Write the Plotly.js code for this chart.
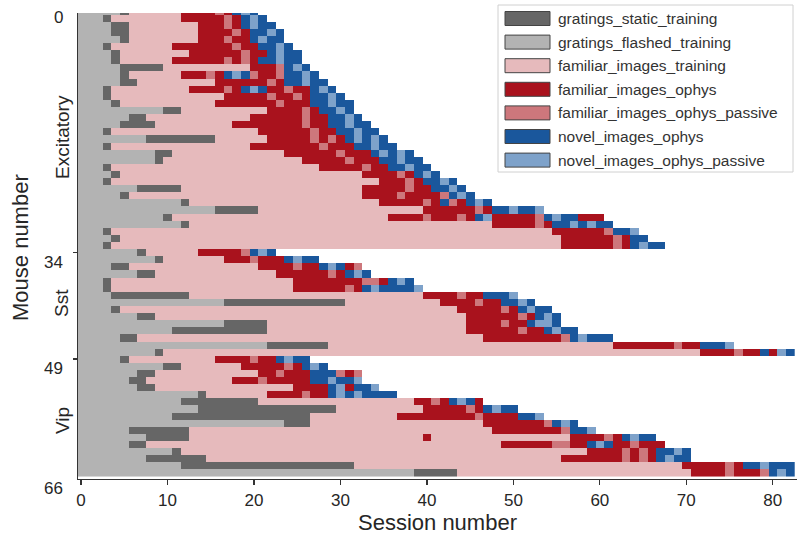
<!DOCTYPE html>
<html>
<head>
<meta charset="utf-8">
<script src="https://cdn.plot.ly/plotly-3.0.1.min.js"></script>
<style>
html,body{margin:0;padding:0;background:#fff;}
#chart{width:797px;height:541px;}
</style>
</head>
<body>
<div id="chart"></div>
<script>
// ---------- data ----------
const categories = [
  "gratings_static_training",
  "gratings_flashed_training",
  "familiar_images_training",
  "familiar_images_ophys",
  "familiar_images_ophys_passive",
  "novel_images_ophys",
  "novel_images_ophys_passive"
];
const categoryCodes = ["S", "G", "P", "R", "r", "B", "b"];
const categoryColors = ["#666666", "#b3b3b3", "#e6babc", "#a9121d", "#cd777c", "#1a579c", "#7ea2ca"];

const groupNames = ["Excitatory", "Sst", "Vip"];
const yTickLabels = ["0", "34", "49", "66"];
const xTickValues = [0, 10, 20, 30, 40, 50, 60, 70, 80];

// each mouse: run-length string of session categories (code + number of sessions)
const excitatoryRows = [
  "G5 S1 P6 R4 r1 R1 B1 b1 B1",
  "G3 S1 P8 R5 r1 R1 B1 b1 B1",
  "G4 S2 P8 R3 r1 R1 B1 b1 B2",
  "G4 S2 P8 R4 r1 R1 B2 b1 B1",
  "G5 S1 P8 R3 r1 R2 B1 b1 B2",
  "G3 S1 P7 R7 r1 R2 B2 b1 B1",
  "G4 S1 P8 R6 r1 R2 B1 b1 B2",
  "G4 S1 P6 R6 r1 R1 r1 R1 B2 b1 B2",
  "G5 S5 P10 R3 r1 B1 b1 B1",
  "G5 S1 P6 R3 r1 R1 B1 b1 B1 r1 R2 r1 B2 b1 B1",
  "G5 S2 P9 R6 r1 R1 B2 b1 B2",
  "G3 S1 P9 R4 r1 R1 B1 b1 B1 R2 r1 R2 B1 b1 B1",
  "G3 S1 P13 R5 r1 R2 r1 R1 B2 b1 B1",
  "G4 S1 P11 R7 r1 R3 B2 b1 B2",
  "G10 S2 P10 R4 r1 R1 B2 b1 B1",
  "G6 S2 P12 R6 r1 R2 B2 b1 B1",
  "G5 S4 P9 R8 r1 R2 B2 b1 B2",
  "G3 S1 P17 R6 r1 R2 B2 b1 B2",
  "G8 S8 P6 R5 r1 R1 r1 R1 B1 b1 B1 b1 B1",
  "G3 S1 P16 R8 r1 R3 B2 b1 B2",
  "G9 S2 P13 R6 r1 R3 B1 b1 B1 b1 B1",
  "G9 S1 P16 R5 r1 R3 B2 b1 B2",
  "G3 S1 P24 R5 r1 R2 B2 b1 B2",
  "G4 S1 P28 R4 r1 R1 B1 b1 B1",
  "G3 S1 P31 R3 r1 R1 B2 b1 B1",
  "G7 S5 P21 R5 r1 R2 B2 b1 B1",
  "G5 S1 P27 R4 r1 R4 r1 B1 b1 B1",
  "G12 S1 P22 R5 r1 R1 B1 r1 R1 B1 b1 B1",
  "G16 S5 P19 R6 r1 R1 B2 b1 B2 b1",
  "G10 S1 P25 R4 r1 R3 r1 R1 B1 b1 R5 r1 B1 b1 B2 R3",
  "G12 S1 P35 R5 r1 R1 B2 b1 B1 b1 B2",
  "G3 S1 P51 R6 r1 B2 b1",
  "G4 S1 P51 R6 r1 R1 B2",
  "G3 S1 P52 R6 r1 R1 B1 b1 B2"
];
const sstRows = [
  "G7 S1 P6 R5 r1 B1 b1 B1",
  "G9 S1 P7 R3 r1 R3 B1 b1 B2",
  "G4 S2 P15 R4 r1 R2 B1 b1 B1 R1 r1",
  "G7 S2 P14 R6 r1 R1 B1 b1 B1",
  "G3 S1 P21 R8 r2 R1 B1 b1 B1",
  "G3 S1 P21 R6 r1 R1 B1 b1 B4 b1",
  "G4 S9 P27 R4 r1 R2 B3 b1",
  "G17 S14 P11 R4 r1 R2 B2 b1 B1",
  "G4 S1 P39 R5 r1 R1 B1 b1 B2",
  "G7 S2 P36 R6 r1 R1 B1 b1 B1",
  "G17 S5 P23 R4 r1 R2 B1 b2 B1",
  "G11 S11 P23 R6 r1 R2 B1 b1 B2",
  "G5 S2 P40 R9 r1 B1 b1 B3",
  "G22 S7 P33 R7 r1 R2 B3 b1",
  "G9 S1 P62 R4 r1 R2 B1 R1 b1 B1"
];
const vipRows = [
  "G5 S1 P10 R4 r1 R2 B1 b1 B2",
  "G10 S2 P7 R5 r1 R1 B1 b1 B1",
  "G7 S2 P12 R2 r1 R3 B3 r1 R1 r1",
  "G6 S2 P10 R3 r1 R5 B2 b1 B2 b1",
  "G7 S2 P16 R4 B1 b1 R1 B2 b1",
  "G14 S1 P7 R4 r1 R2 B1 b1 B1 b1 B4",
  "G12 S9 P18 R2 r1 R1 B1 b1 B1 R1",
  "G14 S16 P10 R5 r1 R1 B1 b1 B2",
  "G11 S16 P10 R9 r1 R4 B2 b1",
  "G24 S3 P20 R7 r1 B1 b1 B1",
  "G6 S7 P35 R8 r1 B2 b1",
  "G8 S5 P27 R1 P16 R4 r1 R1 B1 b1 B2",
  "G6 S2 P41 R6 r2 R2 B1 b1 B1 R2 r1 R3",
  "G11 S1 P47 R4 r1 R1 r1 R1 B2 b1 B1",
  "G8 S7 P41 R7 r1 R1 r1 R1 B1 b1 B2",
  "G12 S20 P38 R5 r1 R1 B2 b1 B3",
  "G39 S5 P27 R4 r1 R3 r1 B1 b1 B1"
];

// ---------- build ----------
function expandRow(spec) {
  const out = [];
  spec.trim().split(/\s+/).forEach(tok => {
    const v = categoryCodes.indexOf(tok[0]);
    const n = parseInt(tok.slice(1), 10);
    for (let i = 0; i < n; i++) out.push(v);
  });
  return out;
}
const groups = [excitatoryRows, sstRows, vipRows];
const allRows = [].concat(...groups).map(expandRow);
const nSessions = Math.max(...allRows.map(r => r.length));
const z = allRows.map(r => { const a = r.slice(); while (a.length < nSessions) a.push(null); return a; });
const xs = Array.from({length: nSessions}, (_, i) => i);
const ys = Array.from({length: z.length}, (_, i) => i);

const nCat = categories.length;
const colorscale = [];
categoryColors.forEach((c, i) => { colorscale.push([i / nCat, c]); colorscale.push([(i + 1) / nCat, c]); });

// pixel helpers (plot area 78..797 x 13..479)
const W = 797, H = 541, L = 78, R = 0, T = 13, B = 62;
const pw = W - L - R, ph = H - T - B;
const px = x => (x - L) / pw;
const py = y => (H - B - y) / ph;

const font = "Liberation Sans, Arial, sans-serif";
const textColor = "#262626";

const annotations = [];
const shapes = [];

// y tick labels
const yTickPix = [18, 262, 368, 488];
yTickLabels.forEach((t, i) => annotations.push({
  text: t, xref: "paper", yref: "paper", x: px(65), y: py(yTickPix[i]),
  xanchor: "right", yanchor: "middle", showarrow: false,
  font: {family: font, size: 17, color: textColor}
}));
// group labels
const groupLabelPix = [137, 303, 421];
groupNames.forEach((g, i) => annotations.push({
  text: g, xref: "paper", yref: "paper", x: px(62), y: py(groupLabelPix[i]),
  xanchor: "center", yanchor: "middle", textangle: -90, showarrow: false,
  font: {family: font, size: 19, color: textColor}
}));
// y axis title
annotations.push({
  text: "Mouse number", xref: "paper", yref: "paper", x: px(20), y: py(248),
  xanchor: "center", yanchor: "middle", textangle: -90, showarrow: false,
  font: {family: font, size: 22, color: textColor}
});

// legend (drawn as shapes + text)
shapes.push({type: "rect", xref: "paper", yref: "paper",
  x0: px(498), x1: px(793), y0: py(172), y1: py(5),
  line: {color: "#d0d0d0", width: 1}, fillcolor: "rgba(255,255,255,0.85)", layer: "above"});
categories.forEach((c, i) => {
  const cy = 18.5 + i * 23.6;
  shapes.push({type: "rect", xref: "paper", yref: "paper",
    x0: px(505), x1: px(550), y0: py(cy + 7), y1: py(cy - 7),
    line: {color: "#444444", width: 1}, fillcolor: categoryColors[i], layer: "above"});
  annotations.push({text: c, xref: "paper", yref: "paper", x: px(556), y: py(cy),
    xanchor: "left", yanchor: "middle", showarrow: false,
    font: {family: font, size: 15.5, color: "#333333"}});
});

const trace = {
  type: "heatmap", z: z, x: xs, y: ys,
  colorscale: colorscale, zmin: -0.5, zmax: nCat - 0.5,
  showscale: false, hoverinfo: "skip", xgap: 0, ygap: 0
};

const layout = {
  width: W, height: H,
  margin: {l: L, r: R, t: T, b: B, pad: 0},
  paper_bgcolor: "#ffffff", plot_bgcolor: "#ffffff",
  font: {family: font, color: textColor},
  showlegend: false,
  xaxis: {
    range: [-0.35, 82.8], tickvals: xTickValues, ticktext: xTickValues.map(String),
    ticks: "outside", ticklen: 5, tickwidth: 1.2, tickcolor: "#333333",
    showline: true, linecolor: "#333333", linewidth: 1.4,
    showgrid: false, zeroline: false,
    tickfont: {family: font, size: 17, color: textColor},
    title: {text: "Session number", font: {family: font, size: 22, color: textColor}, standoff: 2}
  },
  yaxis: {
    range: [65.9, 0.27], tickvals: [34, 49], showticklabels: false,
    ticks: "outside", ticklen: 4, tickwidth: 1.2, tickcolor: "#333333",
    showline: true, linecolor: "#333333", linewidth: 1.4,
    showgrid: false, zeroline: false
  },
  annotations: annotations,
  shapes: shapes
};

Plotly.newPlot("chart", [trace], layout, {staticPlot: true, displayModeBar: false});
</script>
</body>
</html>
